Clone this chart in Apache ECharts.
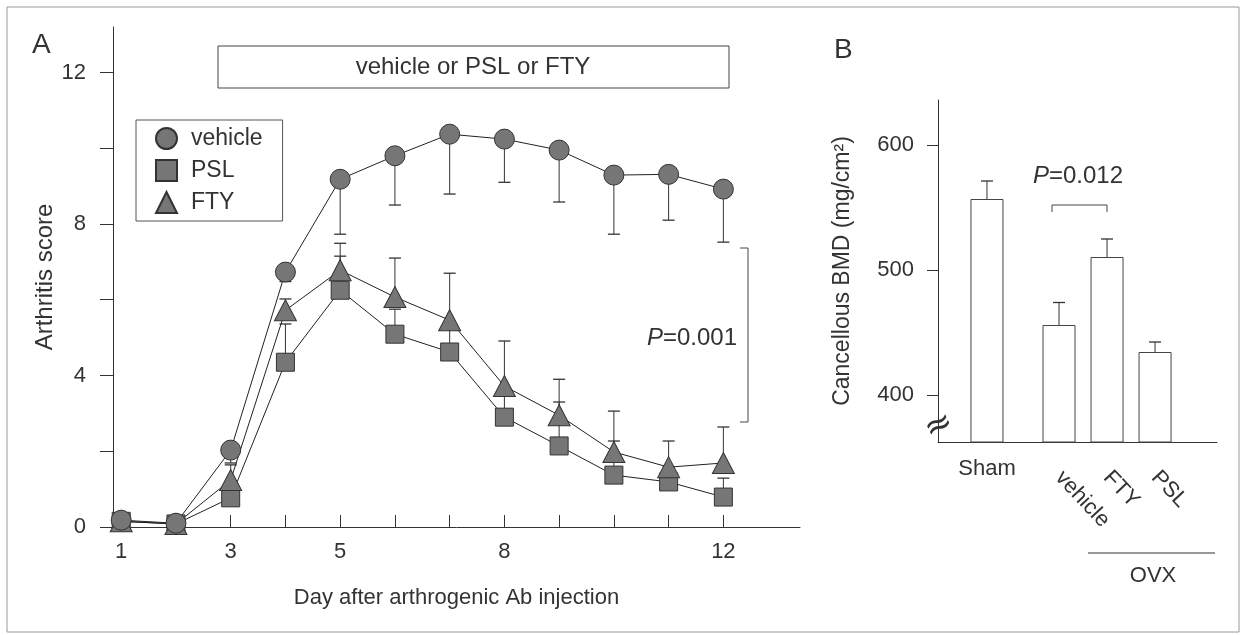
<!DOCTYPE html>
<html><head><meta charset="utf-8">
<script src="https://cdn.jsdelivr.net/npm/echarts@6/dist/echarts.min.js"></script>
<style>html,body{margin:0;padding:0;background:#fff}#c{width:1242px;height:635px}</style>
</head><body><div id="c"></div>
<script>
// ---------- Panel A data ----------
const days = [1, 2, 3, 4, 5, 6, 7, 8, 9, 10, 11, 12];
const vehicleScore = [0.18, 0.10, 2.03, 6.73, 9.18, 9.80, 10.37, 10.24, 9.95, 9.29, 9.31, 8.92];
const vehicleSD    = [0, 0, 0.34, 0.25, 1.45, 1.30, 1.58, 1.14, 1.37, 1.56, 1.21, 1.40];
const pslScore     = [0.15, 0.08, 0.77, 4.35, 6.25, 5.09, 4.62, 2.90, 2.14, 1.37, 1.19, 0.79];
const pslSD        = [0, 0, 0.30, 1.01, 0.90, 0.66, 0.70, 0.60, 1.16, 0.90, 0.40, 0.50];
const ftyScore     = [0.15, 0.08, 1.24, 5.72, 6.78, 6.07, 5.46, 3.72, 2.95, 1.98, 1.58, 1.69];
const ftySD        = [0, 0, 0.40, 0.30, 0.71, 1.03, 1.24, 1.19, 0.95, 1.08, 0.69, 0.95];
const dayTickValues  = [3, 4, 5, 6, 7, 8, 9, 10, 11, 12];
const dayLabelValues = [1, 3, 5, 8, 12];
const scoreTickValues  = [0, 2, 4, 6, 8, 10, 12];
const scoreLabelValues = [0, 4, 8, 12];

// ---------- Panel B data ----------
const bmdGroups = ['Sham', 'vehicle', 'FTY', 'PSL'];
const bmdSlot   = [0, 1.5, 2.5, 3.5];
const bmdMean   = [556.8, 456.0, 510.4, 434.4];
const bmdSD     = [14.4, 18.0, 14.4, 8.0];
const bmdTickValues = [400, 500, 600];

const FONT = '"Liberation Sans", Arial, sans-serif';
const TXT = '#333';
const MARK = {color: '#767676', borderColor: '#333', borderWidth: 1};

function errData(x, mean, sd, dir) {
  const out = [];
  x.forEach((d, i) => { if (sd[i] > 0) out.push([d, mean[i], mean[i] + dir * sd[i]]); });
  return out;
}
function errRender(params, api) {
  const x = api.value(0), a = api.value(1), b = api.value(2);
  const p0 = api.coord([x, a]), p1 = api.coord([x, b]);
  const w = 6;
  return {type: 'group', children: [
    {type: 'line', shape: {x1: p0[0], y1: p0[1], x2: p1[0], y2: p1[1]}, style: {stroke: '#333', lineWidth: 1}},
    {type: 'line', shape: {x1: p1[0] - w, y1: p1[1], x2: p1[0] + w, y2: p1[1]}, style: {stroke: '#333', lineWidth: 1.3}}
  ]};
}
function errSeries(name, data, xi, yi) {
  return {type: 'custom', name: name, xAxisIndex: xi, yAxisIndex: yi, renderItem: errRender,
    data: data, encode: {x: 0, y: [1, 2]}, z: 1, silent: true, clip: false};
}
function lineSeries(name, vals, symbol, size) {
  return {type: 'line', name: name, data: days.map((d, i) => [d, vals[i]]),
    xAxisIndex: 0, yAxisIndex: 0, symbol: symbol, symbolSize: size, showSymbol: true,
    itemStyle: MARK, lineStyle: {color: '#222', width: 1}, z: 3, clip: false, animation: false};
}

const chart = echarts.init(document.getElementById('c'));
const axisLine = {show: true, onZero: false, lineStyle: {color: '#333', width: 1}};
const labelStyle = {fontFamily: FONT, fontSize: 22, color: TXT};

chart.setOption({
  animation: false,
  backgroundColor: '#fff',
  textStyle: {fontFamily: FONT},
  grid: [
    {left: 113, top: 27, width: 687, height: 500},
    {left: 938, top: 100, width: 279, height: 342}
  ],
  legend: {
    left: 136, top: 120, orient: 'vertical',
    data: [{name: 'vehicle', icon: 'circle'}, {name: 'PSL', icon: 'rect'}, {name: 'FTY', icon: 'triangle'}],
    itemWidth: 21, itemHeight: 21, itemGap: 9,
    padding: [7, 20, 7, 19], borderColor: '#555', borderWidth: 1,
    textStyle: {fontFamily: FONT, fontSize: 23, color: TXT, padding: [0, 0, 0, 9]},
    selectedMode: false
  },
  xAxis: [
    {type: 'value', gridIndex: 0, min: 0.85, max: 13.4,
     axisLine: axisLine, splitLine: {show: false},
     axisTick: {show: true, inside: true, length: 12, customValues: dayTickValues, lineStyle: {color: '#333'}},
     axisLabel: Object.assign({customValues: dayLabelValues, margin: 14}, labelStyle),
     name: 'Day after arthrogenic Ab injection', nameLocation: 'middle', nameGap: 60,
     nameTextStyle: labelStyle},
    {type: 'value', gridIndex: 1, min: -1.02, max: 4.79, position: 'bottom',
     axisLine: axisLine, splitLine: {show: false}, axisTick: {show: false},
     axisLabel: Object.assign({customValues: [bmdSlot[0]], margin: 16,
       formatter: v => bmdGroups[bmdSlot.indexOf(v)] || ''}, labelStyle)},
    {type: 'value', gridIndex: 1, min: -1.02, max: 4.79, position: 'bottom', offset: 0,
     axisLine: {show: false, onZero: false}, splitLine: {show: false}, axisTick: {show: false},
     axisLabel: Object.assign({customValues: bmdSlot.slice(1), margin: 32, rotate: -47,
       formatter: v => bmdGroups[bmdSlot.indexOf(v)] || ''}, labelStyle)}
  ],
  yAxis: [
    {type: 'value', gridIndex: 0, min: 0, max: 13.2,
     axisLine: axisLine, splitLine: {show: false},
     axisTick: {show: true, length: 13, customValues: scoreTickValues, lineStyle: {color: '#333'}},
     axisLabel: Object.assign({customValues: scoreLabelValues, margin: 27}, labelStyle),
     name: 'Arthritis score', nameLocation: 'middle', nameGap: 56, nameMoveOverlap: false,
     nameTextStyle: Object.assign({}, labelStyle, {fontSize: 24})},
    {type: 'value', gridIndex: 1, min: 362.4, max: 636,
     axisLine: axisLine, splitLine: {show: false},
     axisTick: {show: true, length: 11, customValues: bmdTickValues, lineStyle: {color: '#333'}},
     axisLabel: Object.assign({customValues: bmdTickValues, margin: 24}, labelStyle),
     name: 'Cancellous BMD (mg/cm²)', nameLocation: 'middle', nameGap: 84, nameMoveOverlap: false,
     nameTextStyle: Object.assign({}, labelStyle, {fontSize: 23})}
  ],
  series: [
    errSeries('vehicle-err', errData(days, vehicleScore, vehicleSD, -1), 0, 0),
    errSeries('psl-err', errData(days, pslScore, pslSD, 1), 0, 0),
    errSeries('fty-err', errData(days, ftyScore, ftySD, 1), 0, 0),
    lineSeries('PSL', pslScore, 'rect', 18),
    lineSeries('FTY', ftyScore, 'triangle', [22, 21]),
    lineSeries('vehicle', vehicleScore, 'circle', 20),
    {type: 'bar', name: 'BMD', xAxisIndex: 1, yAxisIndex: 1, barWidth: 33,
     data: bmdSlot.map((x, i) => [x, bmdMean[i]]),
     itemStyle: {color: '#fff', borderColor: '#444', borderWidth: 1}, z: 2},
    errSeries('bmd-err', errData(bmdSlot, bmdMean, bmdSD, 1), 1, 1)
  ],
  graphic: [
    {type: 'rect', shape: {x: 7, y: 7, width: 1232, height: 625}, style: {fill: 'none', stroke: '#999', lineWidth: 1}, z: 0, silent: true},
    {type: 'text', left: 32, top: 31, style: {text: 'A', font: '28px ' + FONT, fill: TXT}},
    {type: 'text', left: 834, top: 36, style: {text: 'B', font: '28px ' + FONT, fill: TXT}},
    {type: 'rect', shape: {x: 218, y: 46, width: 511, height: 42}, style: {fill: '#fff', stroke: '#444', lineWidth: 1}},
    {type: 'text', x: 473, y: 67, style: {text: 'vehicle or PSL or FTY', font: '24px ' + FONT, fill: TXT, align: 'center', verticalAlign: 'middle'}},
    {type: 'polyline', shape: {points: [[740, 248], [748, 248], [748, 422], [740, 422]]}, style: {stroke: '#444', lineWidth: 1, fill: 'none'}},
    {type: 'text', x: 737, y: 338, style: {text: '{i|P}=0.001', align: 'right', verticalAlign: 'middle', font: '24px ' + FONT, fill: TXT,
      rich: {i: {fontStyle: 'italic', fontSize: 24, fontFamily: FONT, fill: TXT}}}},
    {type: 'text', x: 1078, y: 176, style: {text: '{i|P}=0.012', align: 'center', verticalAlign: 'middle', font: '24px ' + FONT, fill: TXT,
      rich: {i: {fontStyle: 'italic', fontSize: 24, fontFamily: FONT, fill: TXT}}}},
    {type: 'polyline', shape: {points: [[1052, 212], [1052, 205], [1107, 205], [1107, 212]]}, style: {stroke: '#444', lineWidth: 1, fill: 'none'}},
    {type: 'line', shape: {x1: 1088, y1: 553, x2: 1215, y2: 553}, style: {stroke: '#333', lineWidth: 1}},
    {type: 'text', x: 1153, y: 576, style: {text: 'OVX', font: '22px ' + FONT, fill: TXT, align: 'center', verticalAlign: 'middle'}},
    {type: 'text', x: 939, y: 426, rotation: 0.45, style: {text: '≈', font: '34px "DejaVu Sans", sans-serif', fill: '#333', align: 'center', verticalAlign: 'middle'}, z: 10}
  ]
});
</script></body></html>
